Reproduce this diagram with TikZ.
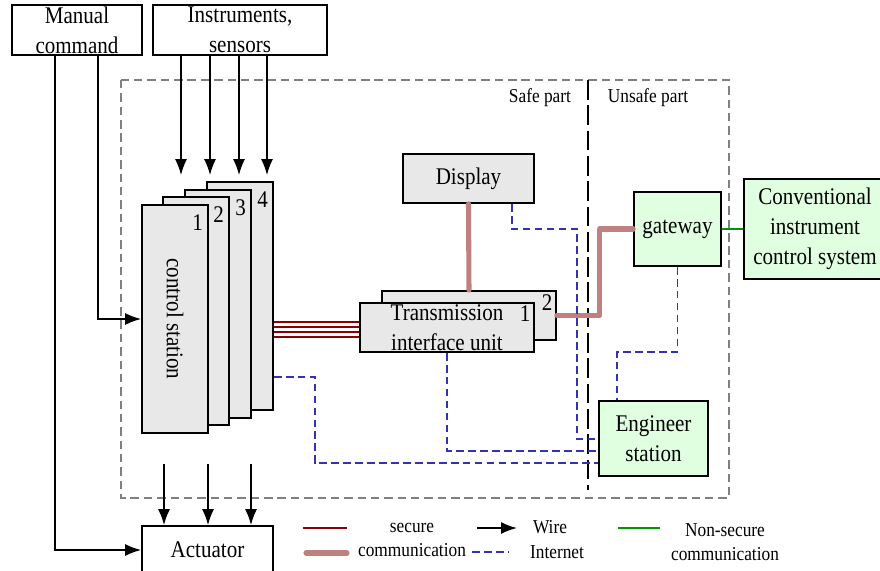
\documentclass[tikz,border=0pt]{standalone}
\usepackage{fontspec}
\setmainfont{Liberation Serif}[FakeStretch=0.88]
\usetikzlibrary{arrows.meta}

\definecolor{grigio}{RGB}{232,232,232}
\definecolor{verdino}{RGB}{224,255,224}
\definecolor{rossoscuro}{RGB}{139,0,0}
\definecolor{rosa}{RGB}{192,128,128}
\definecolor{bluinternet}{RGB}{50,50,180}
\definecolor{verde}{RGB}{0,150,0}
\newcommand{\pu}{0.025cm}
\newcommand{\legenda}{\fontsize{14}{17}\selectfont}

\begin{document}
\begin{tikzpicture}[x=0.025cm, y=-0.025cm, font=\fontsize{17}{21.3}\selectfont,
    >={Latex[length=4mm,width=3mm]},
    blocco/.style={draw, line width=1.2pt, align=center, inner sep=0pt},
    stazione/.style={blocco, fill=grigio, minimum width=66*\pu, minimum height=228*\pu},
    unita/.style={blocco, fill=grigio, minimum width=174*\pu, minimum height=49*\pu},
    filo/.style={->, line width=1.2pt},
    sicuro/.style={rossoscuro, line width=1pt},
    sicurospesso/.style={rosa, line width=3.6pt, line cap=round, line join=round},
    internet/.style={bluinternet, line width=0.8pt, dash pattern=on 5.5pt off 3pt},
    nonsicuro/.style={verde, line width=1pt}]

        \useasboundingbox (0,0) rectangle (880,571);

        % Zona tratteggiata (parte sicura / non sicura)
        \draw[gray, line width=0.8pt, dash pattern=on 6pt off 3.5pt] (121,80) rectangle (729,498);
        \draw[line width=0.8pt, dash pattern=on 14pt off 4pt] (588,80) -- (588,490);
        \node[font=\legenda] (safe) at (540,98) {Safe part};
        \node[font=\legenda] (unsafe) at (648,98) {Unsafe part};

        % Blocchi in alto
        \node[blocco, minimum width=130*\pu, minimum height=50*\pu] (manual) at (77,30) {Manual\\command};
        \node[blocco, minimum width=174*\pu, minimum height=50*\pu] (instr) at (240,30) {Instruments,\\sensors};

        % Stazioni di controllo (1..4, impilate)
        \node[stazione] (st4) at (240,296) {};
        \node[stazione] (st3) at (218,304) {};
        \node[stazione] (st2) at (196,311) {};
        \node[stazione] (st1) at (175,319) {};
        \foreach \n in {1,...,4}
            \node[anchor=north east, inner xsep=4pt, inner ysep=7pt] (num\n) at (st\n.north east) {\n};
        \node[rotate=-90] (cstext) at (st1.center) {control station};

        % Attuatore
        \node[blocco, minimum width=131*\pu, minimum height=48*\pu] (act) at (207.5,550) {Actuator};

        % Frecce dagli strumenti
        \foreach \x in {181,210,239,267}
            \draw[filo, shorten >=0.15cm] (instr.south -| \x,0) -- (\x,0 |- st4.north);

        % Comando manuale
        \draw[filo] (manual.south -| 98,0) |- (st1.west);
        \draw[filo] (manual.south -| 55,0) |- (act.west);

        % Frecce verso l'attuatore
        \foreach \x in {164,208,251}
            \draw[filo, shorten <=0.75cm] (\x,0 |- st1.south) -- (\x,0 |- act.north);

        % Unita' di interfaccia di trasmissione
        \node[unita] (unit2) at (469,315.5) {};
        \node[anchor=north east, inner sep=3pt] (num2b) at (unit2.north east) {2};
        \node[unita] (unit1) at (447,327.5) {Transmission\\interface unit};
        \node[anchor=north east, inner xsep=3pt, inner ysep=2pt] (num1b) at (unit1.north east) {1};

        % Display, gateway, stazione ingegnere
        \node[blocco, fill=grigio, minimum width=131*\pu, minimum height=49*\pu] (disp) at (468.5,178.5) {Display};
        \node[blocco, fill=verdino, minimum width=87*\pu, minimum height=74*\pu] (gw) at (677.5,229) {gateway};
        \node[blocco, fill=verdino, minimum width=142*\pu, minimum height=100*\pu] (conv) at (815,229) {Conventional\\instrument\\control system};
        \node[blocco, fill=verdino, minimum width=109*\pu, minimum height=75*\pu] (eng) at (653.5,438.5) {Engineer\\station};

        % Comunicazione sicura
        \foreach \y in {322,327,332,337}
            \draw[sicuro] (st4.east |- 0,\y) -- (unit1.west |- 0,\y);
        \draw[sicurospesso] (disp.south) -- (unit2.north);
        \draw[sicurospesso] (unit2.east) -- ++(43,0) |- (gw.west);

        % Comunicazione non sicura
        \draw[nonsicuro] (gw.east) -- (conv.west);

        % Internet
        \draw[internet] (disp.south -| 512,0) |- (577,229) |- (eng.west |- 0,439);
        \draw[internet] (unit1.south) |- (eng.west |- 0,451);
        \draw[internet] (st4.east |- 0,377) -| (315,463) -- (eng.west |- 0,463);
        \draw[internet] (gw.south) |- (617,352) -- (eng.north -| 617,0);

        % Legenda
        \draw[sicuro] (303,528) -- (347,528);
        \draw[sicurospesso] (306,553) -- (347,553);
        \node[font=\legenda, align=center] (legsec) at (412,540) {secure\\communication};
        \draw[filo] (477,528) -- (517,528);
        \draw[internet] (472,552) -- (508,552);
        \node[font=\legenda] (legwire) at (550,527) {Wire};
        \node[font=\legenda] (legnet) at (557,552) {Internet};
        \draw[nonsicuro] (618,528) -- (660,528);
        \node[font=\legenda, align=center] (legnon) at (725,542) {Non-secure\\communication};

\end{tikzpicture}
\end{document}
